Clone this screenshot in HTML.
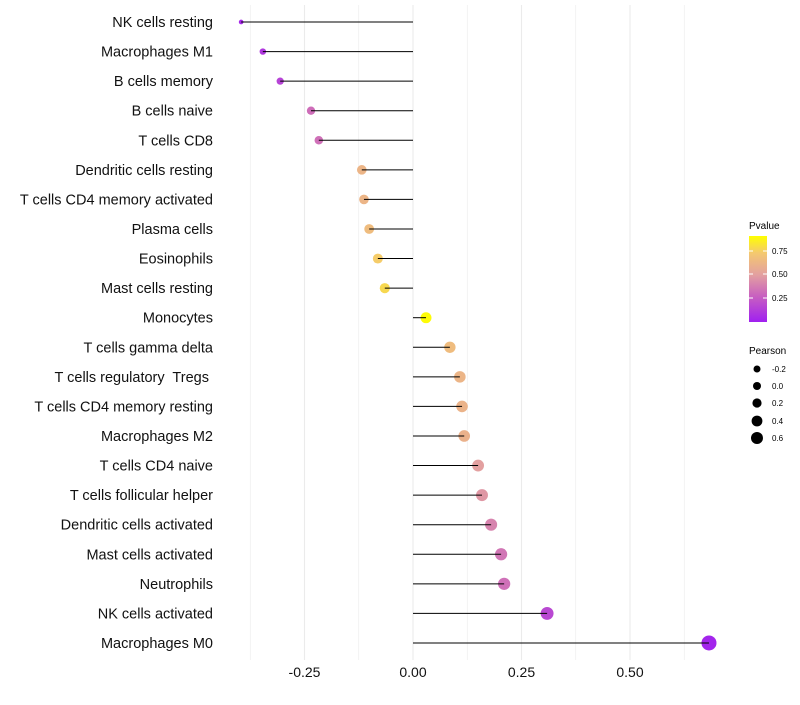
<!DOCTYPE html>
<html><head><meta charset="utf-8"><style>
body{margin:0;background:#fff;font-family:"Liberation Sans",sans-serif}
svg text{font-family:"Liberation Sans",sans-serif;white-space:pre}
</style></head><body>
<svg id="c" width="800" height="700" xmlns="http://www.w3.org/2000/svg">
<defs><linearGradient id="pg" x1="0" y1="1" x2="0" y2="0">
<stop offset="0" stop-color="#A020F0"/><stop offset="0.3" stop-color="#C860C0"/><stop offset="0.55" stop-color="#E3A0A0"/><stop offset="0.8" stop-color="#F4C870"/><stop offset="1" stop-color="#FFFF00"/>
</linearGradient></defs>
<g id="grid"></g><g id="dots"></g><g id="marks"></g><g id="labels"></g><g id="xaxis"></g>
<g>
<text x="749" y="229" font-size="10" fill="#000">Pvalue</text>
<rect x="749" y="236" width="18" height="86" fill="url(#pg)"/>
<line x1="749" y1="251" x2="753" y2="251" stroke="#fff"/><line x1="763" y1="251" x2="767" y2="251" stroke="#fff"/>
<line x1="749" y1="274" x2="753" y2="274" stroke="#fff"/><line x1="763" y1="274" x2="767" y2="274" stroke="#fff"/>
<line x1="749" y1="298" x2="753" y2="298" stroke="#fff"/><line x1="763" y1="298" x2="767" y2="298" stroke="#fff"/>
<text x="772" y="254" font-size="8">0.75</text><text x="772" y="277" font-size="8">0.50</text><text x="772" y="301" font-size="8">0.25</text>
</g>
<g>
<text x="749" y="354" font-size="10">Pearson</text>
<circle cx="757" cy="369" r="3.5"/><text x="772" y="372" font-size="8">-0.2</text>
<circle cx="757" cy="386" r="4"/><text x="772" y="389" font-size="8">0.0</text>
<circle cx="757" cy="403" r="4.6"/><text x="772" y="406" font-size="8">0.2</text>
<circle cx="757" cy="421" r="5.4"/><text x="772" y="424" font-size="8">0.4</text>
<circle cx="757" cy="438" r="6"/><text x="772" y="441" font-size="8">0.6</text>
</g>
</svg>
<script>
const categories=["NK cells resting","Macrophages M1","B cells memory","B cells naive","T cells CD8","Dendritic cells resting","T cells CD4 memory activated","Plasma cells","Eosinophils","Mast cells resting","Monocytes","T cells gamma delta","T cells regulatory  Tregs ","T cells CD4 memory resting","Macrophages M2","T cells CD4 naive","T cells follicular helper","Dendritic cells activated","Mast cells activated","Neutrophils","NK cells activated","Macrophages M0"];
const pearson=[-0.396,-0.346,-0.306,-0.235,-0.217,-0.118,-0.113,-0.101,-0.081,-0.065,0.030,0.085,0.108,0.113,0.118,0.150,0.159,0.180,0.203,0.210,0.309,0.682];
const pvalue=[0.04,0.10,0.15,0.32,0.33,0.62,0.62,0.66,0.74,0.78,0.90,0.66,0.62,0.61,0.60,0.50,0.47,0.40,0.35,0.33,0.17,0.02];
const xTicks=[-0.25,0,0.25,0.5];
const xTickLabels=["-0.25","0.00","0.25","0.50"];
const ns="http://www.w3.org/2000/svg";
const X=v=>413+v*434;
const Y=i=>22+i*29.57;
const R=v=>2+5.5*Math.sqrt(Math.max(0,v+0.4)/1.08);
const stops=[[0,[160,32,240]],[0.3,[200,96,192]],[0.55,[227,160,160]],[0.8,[244,200,112]],[1,[255,255,0]]];
function col(p){let t=Math.max(0,Math.min(1,p/0.91));for(let k=1;k<stops.length;k++){if(t<=stops[k][0]){const a=stops[k-1],b=stops[k],f=(t-a[0])/(b[0]-a[0]);return "rgb("+a[1].map((c,j)=>Math.round(c+(b[1][j]-c)*f)).join(",")+")";}}return "rgb(255,255,0)";}
function mk(t,at,p){const e=document.createElementNS(ns,t);for(const k in at)e.setAttribute(k,at[k]);p.appendChild(e);return e;}
const grid=document.getElementById('grid');
for(let v=-0.375;v<=0.7;v+=0.125){const g=mk('line',{x1:X(v),x2:X(v),y1:5,y2:660,stroke:'#ebebeb','stroke-width':Math.abs((v/0.125)%2)>0.5?0.6:1.1},grid);

}
const dots=document.getElementById('dots'),marks=document.getElementById('marks'),labels=document.getElementById('labels');
categories.forEach((c,i)=>{
const d=mk('circle',{cx:X(pearson[i]),cy:Y(i),r:R(pearson[i]),fill:col(pvalue[i])},dots);


const l=mk('line',{x1:X(0),x2:X(pearson[i]),y1:Y(i),y2:Y(i),stroke:'#000','stroke-width':1},marks);


const t=mk('text',{x:213,y:Y(i)+5,'text-anchor':'end','font-size':14.5,fill:'#111'},labels);t.textContent=c;


});
const xa=document.getElementById('xaxis');
xTicks.forEach((v,i)=>{const t=mk('text',{x:X(v),y:677,'text-anchor':'middle','font-size':14,fill:'#111'},xa);t.textContent=xTickLabels[i];

});
</script>
</body></html>
